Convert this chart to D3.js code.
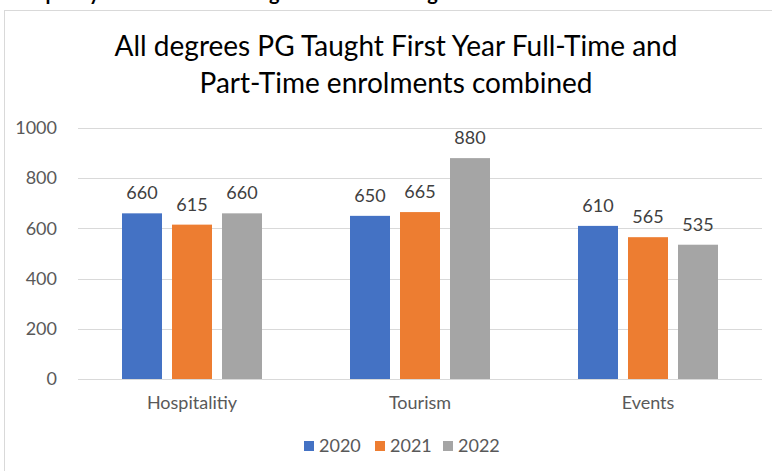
<!DOCTYPE html>
<html>
<head>
<meta charset="utf-8">
<script src="https://cdn.jsdelivr.net/npm/d3@7"></script>
<style>
  body { margin: 0; background: #fff; }
  svg text { font-family: Lato, "Open Sans", sans-serif; }
</style>
</head>
<body>
<svg id="chart"></svg>
<script>
const width = 772;
const height = 471;

// data
const categories = ["Hospitalitiy", "Tourism", "Events"];
const years = ["2020", "2021", "2022"];
const values2020 = [660, 650, 610];
const values2021 = [615, 665, 565];
const values2022 = [660, 880, 535];
const yTicks = [0, 200, 400, 600, 800, 1000];
const titleLines = ["All degrees PG Taught First Year Full-Time and", "Part-Time enrolments combined"];

const colors = ["#4472C4", "#ED7D31", "#A5A5A5"];
const series = [values2020, values2021, values2022];

const svg = d3.select("svg#chart")
  .attr("width", width)
  .attr("height", height);

const margin = {top: 128, bottom: 92, left: 78, right: 10};

// heading of the page, cut off at the top in the screenshot
svg.append("text")
  .attr("x", 22)
  .attr("y", 0)
  .style("font-size", "20px")
  .style("font-weight", "bold")
  .style("fill", "#000")
  .text("Capacity of the School in degree-level teaching");

// chart frame
svg.append("rect")
  .attr("x", 4.5)
  .attr("y", 10.5)
  .attr("width", 820)
  .attr("height", 520)
  .style("fill", "#fff")
  .style("stroke", "#d9d9d9");

// title
svg.append("g").attr("id", "title")
  .selectAll("text")
  .data(titleLines)
  .enter()
  .append("text")
    .attr("x", 396)
    .attr("y", (d, i) => 56 + i * 37)
    .attr("text-anchor", "middle")
    .style("font-size", "28px")
    .style("fill", "#000")
    .text(d => d);

// scales
const x0 = d3.scaleBand()
  .domain(categories)
  .range([margin.left, width - margin.right])
  .padding(0);

const x1 = d3.scaleBand()
  .domain(years)
  .range([44, 184])
  .paddingInner(0.2);

const y = d3.scaleLinear()
  .domain([0, 1000])
  .range([height - margin.bottom, margin.top]);

// gridlines
svg.append("g").attr("id", "grid")
  .selectAll("line")
  .data(yTicks)
  .enter()
  .append("line")
    .attr("x1", margin.left)
    .attr("x2", width - margin.right)
    .attr("y1", d => Math.round(y(d)) + 0.5)
    .attr("y2", d => Math.round(y(d)) + 0.5)
    .style("stroke", "#d9d9d9")
    .style("stroke-width", 1);

// y axis labels
const yAxis = svg.append("g")
  .attr("id", "yAxis")
  .attr("transform", "translate(" + (margin.left - 18) + ",0)")
  .call(d3.axisLeft(y).tickValues(yTicks).tickSize(0).tickFormat(d3.format("d")));
yAxis.select(".domain").remove();
yAxis.selectAll("text")
  .style("font-family", "Lato, 'Open Sans', sans-serif")
  .style("font-size", "18px")
  .style("fill", "#595959");

// x axis labels
const xAxis = svg.append("g")
  .attr("id", "xAxis")
  .attr("transform", "translate(0," + (height - margin.bottom + 14) + ")")
  .call(d3.axisBottom(x0).tickSize(0));
xAxis.select(".domain").remove();
xAxis.selectAll("text")
  .style("font-family", "Lato, 'Open Sans', sans-serif")
  .style("font-size", "18px")
  .style("fill", "#595959");

// bars
const rows = [];
categories.forEach((c, i) => {
  years.forEach((yr, j) => {
    rows.push({category: c, year: yr, value: series[j][i], color: colors[j]});
  });
});

const bars = svg.append("g").attr("id", "rects");
bars.selectAll("rect")
  .data(rows)
  .enter()
  .append("rect")
    .attr("x", d => x0(d.category) + x1(d.year))
    .attr("y", d => y(d.value))
    .attr("width", x1.bandwidth())
    .attr("height", d => y(0) - y(d.value))
    .style("fill", d => d.color);

bars.selectAll("text")
  .data(rows)
  .enter()
  .append("text")
    .attr("x", d => x0(d.category) + x1(d.year) + x1.bandwidth() / 2)
    .attr("y", d => y(d.value) - 14)
    .attr("text-anchor", "middle")
    .style("font-size", "18px")
    .style("fill", "#404040")
    .text(d => d.value);

// legend
const legendX = [304, 375, 443];
const legend = svg.append("g").attr("id", "legend")
  .selectAll("g")
  .data(years)
  .enter()
  .append("g")
    .attr("transform", (d, i) => "translate(" + legendX[i] + ",441)");
legend.append("rect")
  .attr("width", 10)
  .attr("height", 10)
  .style("fill", (d, i) => colors[i]);
legend.append("text")
  .attr("x", 15)
  .attr("y", 11)
  .style("font-size", "18px")
  .style("fill", "#595959")
  .text(d => d);
</script>
</body>
</html>
